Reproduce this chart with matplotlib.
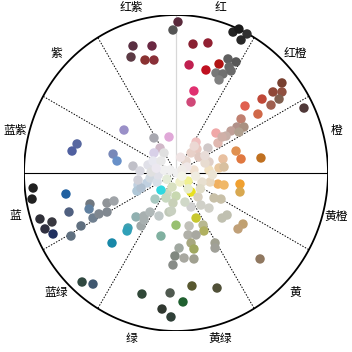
import numpy as np
import matplotlib
matplotlib.use("Agg")
import matplotlib.pyplot as plt

plt.rcParams['font.family'] = ['Noto Sans CJK SC', 'DejaVu Sans']

# hue sector labels (centre angle in degrees)
sector_labels = ['红', '红橙', '橙', '黄橙', '黄', '黄绿', '绿', '蓝绿', '蓝', '蓝紫', '紫', '红紫']
sector_centers = [75, 45, 15, -15, -45, -75, -105, -135, -165, 165, 135, 105]
boundary_dotted = [30, 60, 120, 150, -30, -60, -120, -150]

# colour samples: a (horizontal), b (vertical) chroma coordinates, and colour
a_star = [1.3, -2, -28.3, -15.8, -29.6, -20.4, -14.5, 37.5, 41.4, 46.7, 42.8, 11.2, 21, 8.6, 19.7, 28.3,
          34.2, 39.5, 34.9, 26.3, 30.9, 28.3, 36.2, 11.8, 9.9,
          69.7, 63.8, 69.7, 67.8, 56.6, 62.5, 45.4, 53.9, 84.2, 42.8, 40.1, 44.7, 36.2, 41.4, 32.9, 26.3,
          27.6, 30.3, 13.2, 13.8, 21,
          39.5, 42.8, 55.9, 30.9, 21.7, 28.3, 31.6, 21.7, 9.9, 15.1, 6.6, 4.6, 11.8, 7.2, 19.1,
          27.6, 31.6, 42.1, 42.1, 22.4, 17.1, 25, 29.6, 30.3, 33.6, 44.1, 40.8, 55.3, 21.7,
          7.9, 9.9, 2.6, 14.5, 16.4, 9.9, 13.2, 17.8, 18.4, 8.6, 7.9, 13.2, 9.9, 25.7, 25.7, 11.8, 11.8,
          5.3, 2, 10.5, 27, 4.6, 5.9, 0,
          0, -0.7, -2, -3.9, -9.2, -3.3, -22.4, -9.9, -5.9, -2.6, -2, -4.6,
          -61.8, -54.6, -42.1, -31.6, -32.2, -26.3, -23, -21, -17.1, -21, -11.2, -13.8, -9.9, -6.6,
          -94, -94.7, -89.5, -81.6, -86.2, -80.9, -72.4, -70.4, -62.5, -69.1, -56.6, -57.2, -54.6,
          -50.7, -45.4, -45.4, -40.8, -25, -25.7, -19.1, -23, -17.1, -12.5, -25, -11.8,
          -34.2, -65.1, -68.4, -41.4, -38.8, -28.3, -14.5, -4.6, -10.5, -14.5, -7.9, -18.4, -15.1,
          -9.9, -23.7, -16.4, -7.9, 0.7, -3.9, 3.9,
          13, 24, 4, -6, 8, 16, -13, 3, 12, 19, -3]
b_star = [95.6, 90.5, 80.4, 80.4, 73.4, 71.5, 71.5, 89.2, 91.1, 88, 84.2, 81.6, 82.3, 68.4, 65.2, 69,
          72.2, 70.3, 67.1, 63.3, 62.7, 58.9, 64.6, 51.9, 44.9,
          57, 51.3, 51.3, 46.8, 46.8, 43, 42.4, 37.3, 41.1, 34.2, 29.1, 29.1, 26.6, 25.9, 23.4, 25.3,
          19, 22.8, 19.6, 15.2, 15.8,
          13.9, 8.9, 9.5, 8.9, 7, 3.2, 3.8, 1.9, 12.7, 10.1, 7.6, 2.5, 1.9, 3.8, 6.3,
          -7, -7.6, -7, -12, -5.7, -5.7, -15.8, -16.5, -28.5, -26.6, -32.3, -35.4, -54.4, -22.2,
          -5.1, -12, -5.7, -15.2, -20.3, -21.5, -28.5, -32.9, -36.7, -33.5, -39.2, -39.2, -44.3, -44.3,
          -47.5, -48.1, -54.4, -53.8, -47.5, -71.5, -72.8, -81.6, -18.4, -14.6,
          -33, -52.5, -58.2, -75.9, -86.1, -91.1, -76.6, -39.9, -12.7, -8.9, -19, -24.7,
          -69, -70.3, -44.3, -34.8, -36.7, -27.8, -33.5, -27.2, -24.7, -29.7, -27.2, -16.5, -10.8, -15.8,
          -9.5, -16.5, -29.1, -31, -35.4, -38.6, -13.3, -24.7, -33.5, -39.9, -19.6, -22.8, -28.5,
          -25.9, -24.7, -19, -17.7, -7.6, -11.4, -6.3, -9.5, -3.2, -5.7, -4.4, -1.3,
          27.2, 18.4, 13.9, 12, 7.6, 4.4, 22.2, 22.8, 15.8, 12.7, 12.7, 5.1, 7.6,
          7.6, 1.3, 0.6, 1.9, 0, 1.9, 1.9,
          -2, -1, -2, -4, -10, -10, 3, 10, 17, 11, -24]
colors = ['#5a2a3c', '#555555', '#5a3042', '#6a2842', '#5c3a44', '#8a3232', '#8a3038', '#222222', '#1a1a1a',
          '#303030', '#282828', '#8a2032', '#922032', '#c02050', '#c01020', '#b01414',
          '#606060', '#585858', '#686868', '#787878', '#707070', '#808080', '#6a6a6a', '#e03070', '#d04878',
          '#784030', '#904838', '#905040', '#806050', '#c04838', '#a06050', '#e06050', '#d06848', '#503838',
          '#c08070', '#b09088', '#a89080', '#c0a098', '#b0a090', '#c8b0a8', '#f0a8a8',
          '#e0b8b0', '#d0b0a8', '#f0c0c0', '#e8c8c0', '#d0c8c8',
          '#e09050', '#e07840', '#c07020', '#e8c0a0', '#e0d0c8', '#e8c8a0', '#d8c0a0', '#f0e0c0', '#e8d0c8',
          '#e0c8c0', '#e8d8d0', '#f0e8e0', '#f0e0d0', '#f0e8e8', '#e8dcd0',
          '#f0b060', '#f0b868', '#f0a030', '#d8a850', '#e8d8c0', '#e8e0d0', '#c8c0a8', '#c8c0a8', '#c0c0b0',
          '#c0c0b0', '#c0a070', '#c0a078', '#907860', '#d0d0c8',
          '#f0f090', '#e8e020', '#f0f0c8', '#d8d0c0', '#d0d0c8', '#d0d0d0', '#c8c830', '#b8b890', '#b0b060',
          '#c0c0b8', '#b0b0a8', '#a8a8a0', '#a8a880', '#a0a090', '#a0a098', '#a0a860', '#a0a090',
          '#a8a8a0', '#a0a8a0', '#585830', '#505038', '#206030', '#d0d8c8', '#c8d8b0',
          '#98c070', '#808880', '#888c88', '#505a50', '#303830', '#304038', '#304838', '#80b0a0', '#d0d8c0',
          '#d8e0c0', '#c8d0b8', '#c0c8b8',
          '#304840', '#405870', '#1888a8', '#40a0b0', '#30a0b8', '#90b0b0', '#a0a8a8', '#a8b0b0', '#b0b8b8',
          '#a8b0b0', '#c0c8c8', '#a8c8c0', '#30d8e0', '#c8d8c0',
          '#202020', '#202020', '#303038', '#383840', '#303040', '#203060', '#2060a0', '#506080', '#607080',
          '#607080', '#707880', '#6080a0', '#708090',
          '#808890', '#808890', '#909498', '#a0a4a8', '#c0d0e0', '#b0c8d8', '#c0d0e0', '#b0c0d0', '#d0d8e0',
          '#d8e0e8', '#d0d0d8', '#e0e0e8',
          '#9a90c8', '#5868a0', '#5060a0', '#7888b8', '#6890c8', '#c0c0c8', '#a8a8b0', '#e0a8d8', '#d0b8c8',
          '#d8d0e8', '#e0e0e0', '#e0e0e8', '#e8e8f0',
          '#e8e8e8', '#d8d8e0', '#e0e0e0', '#f0f0f0', '#f0f0f0', '#f0f0f0', '#f0ece8',
          '#f0ece0', '#ece4d4', '#f4f4e8', '#e4ecd8', '#e8ecd0', '#e0dcc8', '#ece8f0', '#f0e4e4', '#ecd8d4',
          '#e8dcd8', '#c8d0c0']

fig = plt.figure(figsize=(3.52, 3.52), dpi=100)
ax = fig.add_axes([24 / 352, 21 / 352, 304 / 352, 316 / 352])
ax.set_xlim(-100, 100)
ax.set_ylim(-100, 100)
ax.axis('off')

k = 152 / 158  # pixel aspect of the wheel


def ell_angle(deg):
    t = np.radians(deg)
    return np.arctan2(np.sin(t) * k, np.cos(t))


# outer circle
th = np.linspace(0, 2 * np.pi, 400)
ax.plot(100 * np.cos(th), 100 * np.sin(th), color='black', lw=1.3, zorder=1)

# boundaries
for d in boundary_dotted:
    p = ell_angle(d)
    ax.plot([0, 100 * np.cos(p)], [0, 100 * np.sin(p)], color='black', lw=0.7,
            linestyle=(0, (1.5, 1.5)), zorder=1)
ax.plot([-100, 100], [0, 0], color='black', lw=0.8, zorder=1)
ax.plot([0, 0], [0, 100], color='#d8d8d8', lw=0.9, zorder=0.9)

# points
ax.scatter(a_star, b_star, s=46, c=colors, linewidths=0, zorder=3)

# labels
for lab, d in zip(sector_labels, sector_centers):
    p = ell_angle(d)
    r = 109
    ax.text(r * np.cos(p), r * np.sin(p), lab, ha='center', va='center', fontsize=8.5,
            color='black', clip_on=False)

fig.savefig('out.png', dpi=100)
